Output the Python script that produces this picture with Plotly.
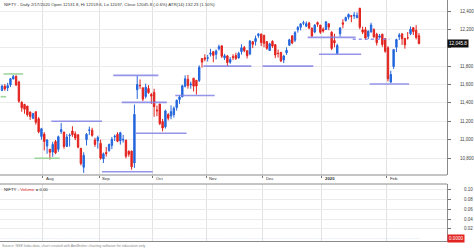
import plotly.graph_objects as go

# ---------------- data ----------------
dates = (
    ["2019-07-%02d" % d for d in [11, 12, 15, 16, 17, 18, 19, 22, 23, 24, 25, 26, 29, 30, 31]]
    + ["2019-08-%02d" % d for d in [1, 2, 5, 6, 7, 8, 9, 13, 14, 16, 19, 20, 21, 22, 23, 26, 27, 28, 29, 30]]
    + ["2019-09-%02d" % d for d in [3, 4, 5, 6, 9, 11, 12, 13, 16, 17, 18, 19, 20, 23, 24, 25, 26, 27, 30]]
    + ["2019-10-%02d" % d for d in [1, 3, 4, 7, 9, 10, 11, 14, 15, 16, 17, 18, 22, 23, 24, 25, 29, 30, 31]]
    + ["2019-11-%02d" % d for d in [1, 4, 5, 6, 7, 8, 11, 13, 14, 15, 18, 19, 20, 21, 22, 25, 26, 27, 28, 29]]
    + ["2019-12-%02d" % d for d in [2, 3, 4, 5, 6, 9, 10, 11, 12, 13, 16, 17, 18, 19, 20, 23, 24, 26, 27, 30, 31]]
    + ["2020-01-%02d" % d for d in [1, 2, 3, 6, 7, 8, 9, 10, 13, 14, 15, 16, 17, 20, 21, 22, 23, 24, 27, 28, 29, 30, 31]]
    + ["2020-02-%02d" % d for d in [1, 3, 4, 5, 6, 7, 10, 11, 12, 13, 14, 17]]
)

opens = [
    11536, 11582, 11563, 11596, 11660, 11690, 11627, 11406, 11383, 11365, 11300, 11233, 11304, 11228, 11035,
    11060, 10930, 10895, 10865, 10979, 10894, 11087, 11083, 10926, 11043, 11094, 11063, 11051, 10906, 10699,
    11000, 11101, 11102, 10996, 10987,
    10960, 10790, 10860, 10883, 10937, 11029, 11059, 10986, 10996, 10995, 10872, 10875, 10746, 11543, 11590,
    11565, 11470, 11556, 11491,
    11515, 11322, 11388, 11198, 11139, 11273, 11257, 11272, 11349, 11437, 11466, 11580, 11657, 11596, 11669,
    11646, 11643, 11883, 11890,
    11886, 11929, 11958, 11928, 11988, 12022, 11891, 11911, 11843, 11904, 11916, 11889, 11958, 12004, 11967,
    11932, 12066, 12068, 12132, 12147,
    12137, 12067, 11970, 12071, 12034, 11940, 11950, 11868, 11945, 12027, 12130, 12082, 12197, 12223, 12267,
    12235, 12269, 12212, 12172, 12274, 12247,
    12202, 12199, 12261, 12170, 12079, 11939, 12153, 12271, 12296, 12333, 12349, 12347, 12328, 12431, 12195,
    12196, 12124, 12175, 12198, 12148, 12114, 12148, 12100,
    12000, 11627, 11796, 12006, 12120, 12151, 12103, 12109, 12152, 12219, 12190, 12131.8,
]
highs = [
    11600, 11605, 11618, 11671, 11704, 11700, 11641, 11419, 11390, 11367, 11307, 11292, 11305, 11246, 11128,
    11081, 11002, 10895, 10977, 10996, 11044, 11181, 11083, 11060, 11068, 11146, 11090, 11063, 10908, 10862,
    11071, 11142, 11129, 11021, 11043,
    11000, 10860, 10920, 10957, 11029, 11054, 11081, 11085, 11052, 10997, 10885, 10880, 11382, 11695, 11655,
    11566, 11610, 11593, 11509,
    11554, 11370, 11389, 11225, 11327, 11288, 11373, 11362, 11437, 11484, 11597, 11700, 11705, 11632, 11669,
    11646, 11809, 11884, 11929,
    11922, 11989, 11958, 11981, 12034, 12022, 11934, 11922, 11898, 11930, 11946, 11957, 12038, 12019, 11972,
    12084, 12074, 12132, 12159, 12158,
    12137, 12068, 12055, 12081, 12039, 11981, 11952, 11923, 12005, 12098, 12134, 12182, 12237, 12269, 12294,
    12287, 12283, 12222, 12258, 12286, 12248,
    12222, 12289, 12265, 12179, 12152, 12044, 12225, 12311, 12338, 12374, 12350, 12389, 12385, 12431, 12230,
    12226, 12189, 12272, 12212, 12163, 12150, 12151, 12103,
    12018, 11750, 11986, 12099, 12160, 12160, 12103, 12172, 12231, 12225, 12246, 12159.6,
]
lows = [
    11528, 11532, 11528, 11573, 11658, 11583, 11400, 11303, 11282, 11251, 11215, 11223, 11163, 11069, 10999,
    10882, 10846, 10783, 10813, 10842, 10867, 11062, 10901, 10925, 10925, 11030, 10995, 10906, 10719, 10638,
    10937, 11050, 11032, 10922, 10902,
    10782, 10746, 10816, 10867, 10897, 10985, 10972, 10946, 10968, 10796, 10814, 10672, 10692, 11443, 11553,
    11419, 11448, 11499, 11389,
    11249, 11255, 11158, 11090, 11121, 11209, 11221, 11240, 11316, 11390, 11462, 11568, 11555, 11554, 11524,
    11491, 11627, 11784, 11852,
    11850, 11905, 11842, 11873, 11970, 11889, 11868, 11802, 11825, 11866, 11867, 11883, 11926, 11951, 11884,
    11919, 11996, 12024, 12108, 12018,
    12005, 11977, 11969, 11998, 11887, 11894, 11844, 11833, 11924, 12022, 12038, 12062, 12165, 12189, 12246,
    12224, 12202, 12118, 12158, 12228, 12151,
    12165, 12195, 12191, 11975, 12006, 11929, 12120, 12213, 12285, 12308, 12278, 12315, 12321, 12202, 12149,
    12087, 12094, 12162, 12107, 12024, 12099, 12010, 11945,
    11634, 11614, 11770, 11953, 12084, 12031, 11990, 12090, 12137, 12139, 12091, 12037,
]
closes = [
    11582, 11552, 11588, 11662, 11687, 11596, 11419, 11346, 11331, 11271, 11252, 11284, 11189, 11085, 11118,
    10980, 10997, 10863, 10948, 10856, 11032, 11109, 10926, 11029, 11048, 11053, 11017, 10918, 10741, 10829,
    11058, 11106, 11046, 10948, 11023,
    10797, 10845, 10848, 10947, 11003, 11036, 10982, 11076, 11003, 10818, 10841, 10705, 11274, 11600, 11588,
    11441, 11571, 11512, 11474,
    11359, 11314, 11174, 11126, 11313, 11234, 11305, 11341, 11428, 11464, 11586, 11662, 11588, 11604, 11582,
    11583, 11787, 11844, 11877,
    11890, 11941, 11917, 11966, 12012, 11908, 11913, 11840, 11872, 11895, 11884, 11940, 11999, 11968, 11914,
    12073, 12037, 12101, 12151, 12056,
    12048, 11994, 12043, 12018, 11922, 11937, 11857, 11910, 11972, 12087, 12053, 12165, 12221, 12260, 12272,
    12262, 12215, 12127, 12246, 12255, 12168,
    12182, 12283, 12226, 11993, 12053, 12025, 12216, 12257, 12330, 12362, 12343, 12355, 12352, 12224, 12170,
    12107, 12180, 12248, 12119, 12055, 12129, 12035, 11962,
    11662, 11708, 11980, 12089, 12138, 12098, 12032, 12108, 12202, 12175, 12113, 12045.8,
]
volumes = [0.0] * len(dates)

month_labels = ["Aug", "Sep", "Oct", "Nov", "Dec", "<b>2020</b>", "Feb"]
month_first = ["2019-08-01", "2019-09-03", "2019-10-01", "2019-11-01", "2019-12-02", "2020-01-01", "2020-02-01"]

price_ticks = [10800, 11000, 11200, 11400, 11600, 11800, 12000, 12200, 12400]
vol_ticks = [0.02, 0.04, 0.06, 0.08, 0.10]

# support / resistance segments: level, first bar date, last bar date
sr_level = [11715, 11467, 10797, 11200, 10650, 11700, 11406, 11070, 11480, 11800, 11800, 12113, 11930, 12092, 11606]
sr_from = ["2019-07-12", "2019-07-11", "2019-07-29", "2019-08-06", "2019-09-04", "2019-09-11", "2019-09-16",
           "2019-09-23", "2019-10-15", "2019-10-31", "2019-12-02", "2019-12-24", "2019-12-31", "2020-01-16", "2020-01-24"]
sr_to = ["2019-07-22", "2019-07-12", "2019-08-08", "2019-09-03", "2019-09-30", "2019-10-03", "2019-10-09",
         "2019-10-18", "2019-11-05", "2019-11-25", "2019-12-26", "2020-01-16", "2020-01-20", "2020-02-01", "2020-02-11"]
sr_kind = ["green", "green", "green", "solid", "solid", "solid", "solid", "solid", "solid", "solid", "solid",
           "solid", "solid", "dot", "solid"]

header = ("NIFTY - Daily 2/17/2020 Open 12131.8, Hi 12159.6, Lo 12037, Close 12045.8 (-0.6%) "
          "ATR(14) 132.23 (1.10%)")
footer = "Source: NSE India data, chart created with AmiBroker charting software for education only"

# ---------------- figure ----------------
pos = {d: i for i, d in enumerate(dates)}
xs = list(range(len(dates)))

fig = go.Figure()
fig.add_trace(go.Candlestick(
    x=xs, open=opens, high=highs, low=lows, close=closes, text=dates,
    increasing=dict(line=dict(color="#2466dc", width=1), fillcolor="#2466dc"),
    decreasing=dict(line=dict(color="#e2231f", width=1), fillcolor="#e2231f"),
    whiskerwidth=0, xaxis="x", yaxis="y", hoverinfo="text",
))
fig.add_trace(go.Bar(x=xs, y=volumes, xaxis="x", yaxis="y2", marker_color="#2466dc", hoverinfo="skip"))

shapes = []
for lv, a, b, k in zip(sr_level, sr_from, sr_to, sr_kind):
    col = "rgba(150,210,150,0.9)" if k == "green" else "rgba(130,130,230,0.85)"
    shapes.append(dict(type="line", xref="x", yref="y", x0=pos[a] - 0.5, x1=pos[b] + 0.5, y0=lv, y1=lv,
                       line=dict(color=col, width=1.6, dash="dot" if k == "dot" else "solid")))
# pane separators
main_bottom = (248 - 175) / 248
vol_top = (248 - 184) / 248
vol_bottom = 6.5 / 248
for yy in (main_bottom, vol_top, vol_bottom):
    shapes.append(dict(type="line", xref="paper", yref="paper", x0=0, x1=1, y0=yy, y1=yy,
                       line=dict(color="#8a8a8a", width=1)))

grid_x = [pos[d] - 0.5 for d in month_first]

last_close = closes[-1]
price_text = ["" if abs(v - last_close) < 60 else "{:,}".format(v) for v in price_ticks]

annotations = [
    dict(x=0.004, y=1.0, xref="paper", yref="paper", xanchor="left", yanchor="top", showarrow=False,
         text=header, font=dict(size=4.3, color="#333333")),
    dict(x=0.004, y=vol_top - 0.006, xref="paper", yref="paper", xanchor="left", yanchor="top", showarrow=False,
         text="NIFTY <span style='color:#e2231f'>- Volume</span> = 0.00", font=dict(size=4.3, color="#222222")),
    dict(x=1.0, y=last_close, xref="paper", yref="y", xanchor="left", yanchor="middle", showarrow=False,
         text="{:,.1f}".format(last_close), bgcolor="#111111", font=dict(size=4.6, color="white"), borderpad=1),
    dict(x=1.0, y=volumes[-1], xref="paper", yref="y2", xanchor="left", yanchor="middle", showarrow=False,
         text="0.0000", bgcolor="#e2231f", font=dict(size=4.6, color="white"), borderpad=1),
    dict(x=0.002, y=2.5 / 248, xref="paper", yref="paper", xanchor="left", yanchor="middle", showarrow=False,
         text=footer, font=dict(size=3.6, color="#8a8a8a"), borderpad=0),
]
for gx, lab in zip(grid_x, month_labels):
    annotations.append(dict(x=gx, y=(main_bottom + vol_top) / 2 + 0.004, xref="x", yref="paper", xanchor="left",
                            yanchor="middle", showarrow=False, text=lab, xshift=1,
                            font=dict(size=4.3, color="#333333")))

fig.update_layout(
    width=474, height=248, margin=dict(l=0, r=25, t=0, b=0),
    paper_bgcolor="white", plot_bgcolor="white", showlegend=False,
    font=dict(family="Liberation Sans, Arial, sans-serif"),
    shapes=shapes, annotations=annotations, bargap=0.3,
    xaxis=dict(range=[-0.71, 157.95], tickvals=grid_x, showticklabels=False, ticks="outside", ticklen=2,
               tickcolor="#777777", showgrid=True, gridcolor="#e2e2e2", gridwidth=1, zeroline=False,
               showline=False, rangeslider=dict(visible=False), anchor="y", fixedrange=True),
    yaxis=dict(domain=[main_bottom, 1.0], range=[10615, 12520], side="right",
               tickvals=price_ticks, ticktext=price_text,
               ticks="outside", ticklen=3, tickcolor="#777777", tickfont=dict(size=4.5, color="#444444"),
               ticklabelstandoff=8,
               showgrid=True, gridcolor="#ececec", zeroline=False, showline=True, linecolor="#8a8a8a",
               anchor="x", fixedrange=True),
    yaxis2=dict(domain=[vol_bottom, vol_top], range=[-0.006, 0.112], side="right",
                tickvals=vol_ticks, tickformat=".2f",
                ticks="outside", ticklen=3, tickcolor="#777777", tickfont=dict(size=4.5, color="#444444"),
                ticklabelstandoff=12,
                showgrid=True, gridcolor="#ececec", zeroline=False, showline=True, linecolor="#8a8a8a",
                anchor="x", fixedrange=True),
)

fig.write_html("out.html")
